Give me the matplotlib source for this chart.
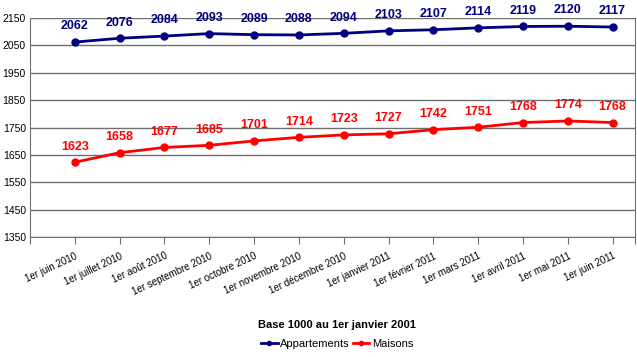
import numpy as np
import matplotlib.pyplot as plt

dates = ["1er juin 2010", "1er juillet 2010", "1er août 2010", "1er septembre 2010",
         "1er octobre 2010", "1er novembre 2010", "1er décembre 2010", "1er janvier 2011",
         "1er février 2011", "1er mars 2011", "1er avril 2011", "1er mai 2011", "1er juin 2011"]
appartements = [2062, 2076, 2084, 2093, 2089, 2088, 2094, 2103, 2107, 2114, 2119, 2120, 2117]
maisons = [1623, 1658, 1677, 1685, 1701, 1714, 1723, 1727, 1742, 1751, 1768, 1774, 1768]
yticks = [1350, 1450, 1550, 1650, 1750, 1850, 1950, 2050, 2150]

plt.rcParams['font.family'] = ['Liberation Sans', 'DejaVu Sans']

fig = plt.figure(figsize=(6.37, 3.57), dpi=100)
ax = fig.add_axes([30/637, 1-237/357, 605/637, 219/357])

x = np.arange(len(dates))
navy = "#000080"
red = "#FF0000"
ax.plot(x, appartements, color=navy, lw=2, marker="o", ms=5, label="Appartements")
ax.plot(x, maisons, color=red, lw=2, marker="o", ms=5, label="Maisons")

for xi, v in zip(x, appartements):
    ax.annotate(str(v), (xi, v), xytext=(0, 7), textcoords="offset points",
                ha="center", va="bottom", color=navy, fontsize=9, fontweight="bold")
for xi, v in zip(x, maisons):
    ax.annotate(str(v), (xi, v), xytext=(0, 7), textcoords="offset points",
                ha="center", va="bottom", color=red, fontsize=9, fontweight="bold")

ax.set_xlim(-1, 12.5)
ax.set_ylim(1350, 2150)
ax.set_yticks(yticks)
ax.set_yticklabels([str(t) for t in yticks], fontsize=7.5)
ax.tick_params(axis="y", length=0, pad=3)
ax.grid(axis="y", color="#707070", lw=1)
ax.set_axisbelow(True)

ax.set_xticks(list(x) + [-1, 12.5])
ax.set_xticklabels(dates + ["", ""], rotation=25, ha="right", rotation_mode="anchor", fontsize=7)
ax.tick_params(axis="x", length=5, color="#707070", pad=5)

for side in ["left", "right", "bottom"]:
    ax.spines[side].set_color("#707070")
ax.spines["top"].set_visible(False)

fig.text(337/637, 1-325/357, "Base 1000 au 1er janvier 2001", ha="center", va="center",
         fontsize=8, fontweight="bold")
fig.legend(loc="center", bbox_to_anchor=(337/637, 1-344/357), ncol=2, frameon=False,
           fontsize=8, handlelength=1.5, handletextpad=0.2, columnspacing=0.3,
           markerscale=0.6)

fig.savefig("out.png", dpi=100)
